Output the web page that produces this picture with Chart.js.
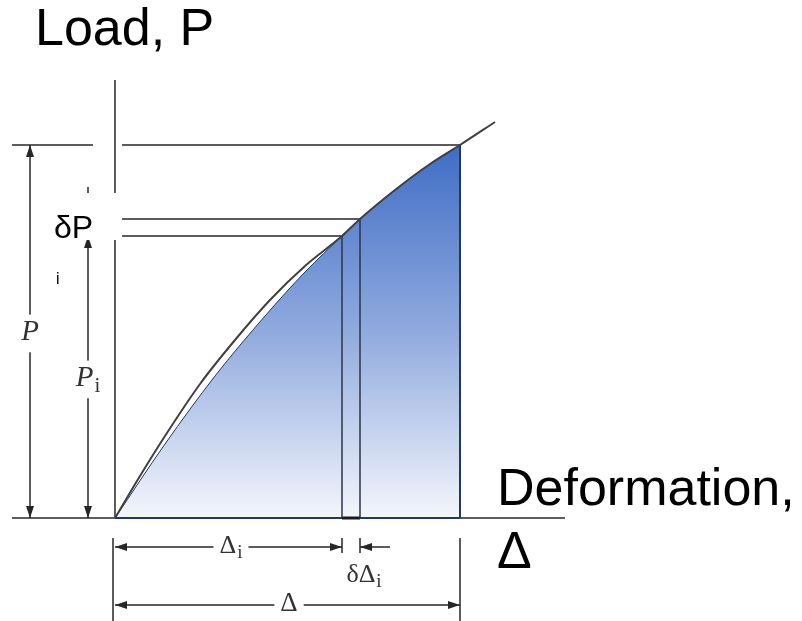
<!DOCTYPE html>
<html>
<head>
<meta charset="utf-8">
<script src="https://cdn.jsdelivr.net/npm/chart.js@4.4.1/dist/chart.umd.min.js"></script>
<style>
  html, body { margin: 0; padding: 0; background: #ffffff; }
  #wrap { width: 802px; height: 621px; }
</style>
</head>
<body>
<div id="wrap"><canvas id="diagram" width="802" height="621"></canvas></div>
<script>
// load-deformation curve (arbitrary units, origin at the axes corner)
const deformation = [0, 25, 50, 85, 120, 155, 190, 227, 245, 280, 315, 345, 380];
const load = [0, 42, 82, 134, 178, 218, 252, 282, 299, 328, 354, 373, 396];

// upper edge of the shaded work area
const shadeDeformation = [0, 50, 100, 150, 190, 227, 245, 280, 315, 345];
const shadeLoad = [0, 74, 142, 202, 246, 282, 299, 328, 354, 373];

// key values
const totalDeformation = 345;   // Δ
const totalLoad = 373;          // P
const deltaI = 227;             // Δi
const deltaI2 = 245;            // Δi + δΔi
const loadI = 282;              // Pi
const loadI2 = 299;             // Pi + δP

const pts = (xs, ys) => xs.map((v, i) => ({ x: v, y: ys[i] }));
const seg = (x0, y0, x1, y1) => [{ x: x0, y: y0 }, { x: x1, y: y1 }];

function line(data, color, width, order) {
    return {
        data: data,
        borderColor: color,
        borderWidth: width,
        pointRadius: 0,
        fill: false,
        tension: 0,
        order: order
    };
}

const axisColor = "#5c5c5c";
const dimColor = "#262626";
const navy = "#1f3864";

// dimension lines, labels and other notes
const diagramPlugin = {
    id: "diagram",
    afterDatasetsDraw(chart) {
        const { ctx, scales: { x, y } } = chart;
        const X = v => x.getPixelForValue(v);
        const Y = v => y.getPixelForValue(v);

        function head(px, py, dx, dy) {
            const len = 12, half = 4;
            ctx.beginPath();
            ctx.moveTo(px, py);
            ctx.lineTo(px - dx * len - dy * half, py - dy * len + dx * half);
            ctx.lineTo(px - dx * len + dy * half, py - dy * len - dx * half);
            ctx.closePath();
            ctx.fill();
        }

        function label(txt, sub, cx, cy, size, italic) {
            ctx.font = (italic ? "italic " : "") + size + "px 'Liberation Serif'";
            const w1 = ctx.measureText(txt).width;
            ctx.font = Math.round(size * 0.72) + "px 'Liberation Serif'";
            const w2 = sub ? ctx.measureText(sub).width + 1 : 0;
            const left = cx - (w1 + w2) / 2;
            ctx.fillStyle = "#ffffff";
            ctx.fillRect(left - 6, cy - size * 0.6, w1 + w2 + 12, size * 1.3);
            ctx.fillStyle = "#333333";
            ctx.textBaseline = "middle";
            ctx.textAlign = "left";
            ctx.font = (italic ? "italic " : "") + size + "px 'Liberation Serif'";
            ctx.fillText(txt, left, cy);
            if (sub) {
                ctx.font = Math.round(size * 0.72) + "px 'Liberation Serif'";
                ctx.fillText(sub, left + w1 + 1, cy + size * 0.28);
            }
        }

        ctx.save();
        ctx.strokeStyle = dimColor;
        ctx.fillStyle = dimColor;
        ctx.lineWidth = 1.5;

        // vertical dimensions
        [[-85, 0, totalLoad], [-27, 0, loadI]].forEach(([at, a, b]) => {
            ctx.beginPath();
            ctx.moveTo(X(at), Y(a));
            ctx.lineTo(X(at), Y(b));
            ctx.stroke();
            head(X(at), Y(a), 0, 1);
            head(X(at), Y(b), 0, -1);
        });
        // short stub of the δP dimension
        ctx.beginPath();
        ctx.moveTo(X(-27), Y(loadI2 + 24));
        ctx.lineTo(X(-27), Y(loadI2 + 32));
        ctx.stroke();

        // horizontal dimensions
        [[-29, 0, deltaI], [-87, 0, totalDeformation]].forEach(([at, a, b]) => {
            ctx.beginPath();
            ctx.moveTo(X(a), Y(at));
            ctx.lineTo(X(b), Y(at));
            ctx.stroke();
            head(X(a), Y(at), -1, 0);
            head(X(b), Y(at), 1, 0);
        });
        // δΔi arrow coming from the right
        ctx.beginPath();
        ctx.moveTo(X(deltaI2 + 30), Y(-29));
        ctx.lineTo(X(deltaI2), Y(-29));
        ctx.stroke();
        head(X(deltaI2), Y(-29), -1, 0);

        // extension lines under the axis
        [[-2, -20, -103], [totalDeformation, -20, -103], [deltaI, -20, -35], [deltaI2, -20, -35]].forEach(([at, a, b]) => {
            ctx.beginPath();
            ctx.moveTo(X(at), Y(a));
            ctx.lineTo(X(at), Y(b));
            ctx.stroke();
        });

        label("P", "", X(-85), Y(186), 29, true);
        label("P", "i", X(-27), Y(140), 29, true);
        label("Δ", "i", X(116), Y(-28), 26, false);
        label("Δ", "", X(174), Y(-86), 27, false);
        label("δΔ", "i", X(249), Y(-57), 26, false);

        // δP note with its white box
        ctx.fillStyle = "#ffffff";
        ctx.fillRect(X(-72), Y(325), X(5) - X(-72), Y(278) - Y(325));
        ctx.fillStyle = "#000000";
        ctx.textAlign = "left";
        ctx.textBaseline = "alphabetic";
        ctx.font = "32px 'Liberation Sans'";
        ctx.fillText("δP", X(-61), Y(280));
        ctx.font = "16px 'Liberation Sans'";
        ctx.fillText("i", X(-59), Y(234));

        // axis titles
        ctx.font = "52px 'Liberation Sans'";
        ctx.fillText("Load, P", X(-80), Y(473));
        ctx.fillText("Deformation,", X(382), Y(13));
        ctx.fillText("Δ", X(382), Y(-50));
        ctx.restore();
    }
};

const ctx = document.getElementById("diagram").getContext("2d");

new Chart(ctx, {
    type: "line",
    data: {
        datasets: [
            Object.assign(line(pts(deformation, load), "#404040", 2, 1), { cubicInterpolationMode: "monotone" }),
            line(seg(deltaI, 0, deltaI, loadI), "#2a3448", 1.5, 2),
            line(seg(deltaI2, 0, deltaI2, loadI2), "#2a3448", 1.5, 2),
            line(seg(deltaI, 0, deltaI2, 0), "#1a1a1a", 3, 2),
            line(seg(totalDeformation, 0, totalDeformation, totalLoad), navy, 2, 3),
            line(seg(0, 0, totalDeformation, 0), navy, 2, 3),
            {
                data: pts(shadeDeformation, shadeLoad),
                borderColor: navy,
                borderWidth: 1,
                pointRadius: 0,
                cubicInterpolationMode: "monotone",
                fill: "origin",
                order: 4,
                backgroundColor: (c) => {
                    const chart = c.chart;
                    if (!chart.chartArea) return "rgba(68,114,196,0.5)";
                    const yScale = chart.scales.y;
                    const g = chart.ctx.createLinearGradient(0, yScale.getPixelForValue(totalLoad), 0, yScale.getPixelForValue(0));
                    g.addColorStop(0, "#3f6dc5");
                    g.addColorStop(0.5, "#90aade");
                    g.addColorStop(1, "#f4f6fc");
                    return g;
                }
            },
            // axes
            line(seg(0, 0, 0, 278), axisColor, 2, 5),
            line(seg(0, 325, 0, 438), axisColor, 2, 5),
            line(seg(-103, 0, 450, 0), axisColor, 2, 6),
            // reference lines for P, Pi and Pi + δP
            line(seg(-103, totalLoad, -22, totalLoad), axisColor, 2, 5),
            line(seg(7, totalLoad, totalDeformation, totalLoad), axisColor, 2, 5),
            line(seg(7, loadI, deltaI, loadI), axisColor, 2, 5),
            line(seg(7, loadI2, deltaI2, loadI2), axisColor, 2, 5)
        ]
    },
    options: {
        responsive: false,
        animation: false,
        layout: { padding: 0 },
        plugins: {
            legend: { display: false },
            tooltip: { enabled: false }
        },
        scales: {
            x: { type: "linear", min: -115, max: 687, display: false },
            y: { type: "linear", min: -103, max: 518, display: false }
        }
    },
    plugins: [diagramPlugin]
});
</script>
</body>
</html>
